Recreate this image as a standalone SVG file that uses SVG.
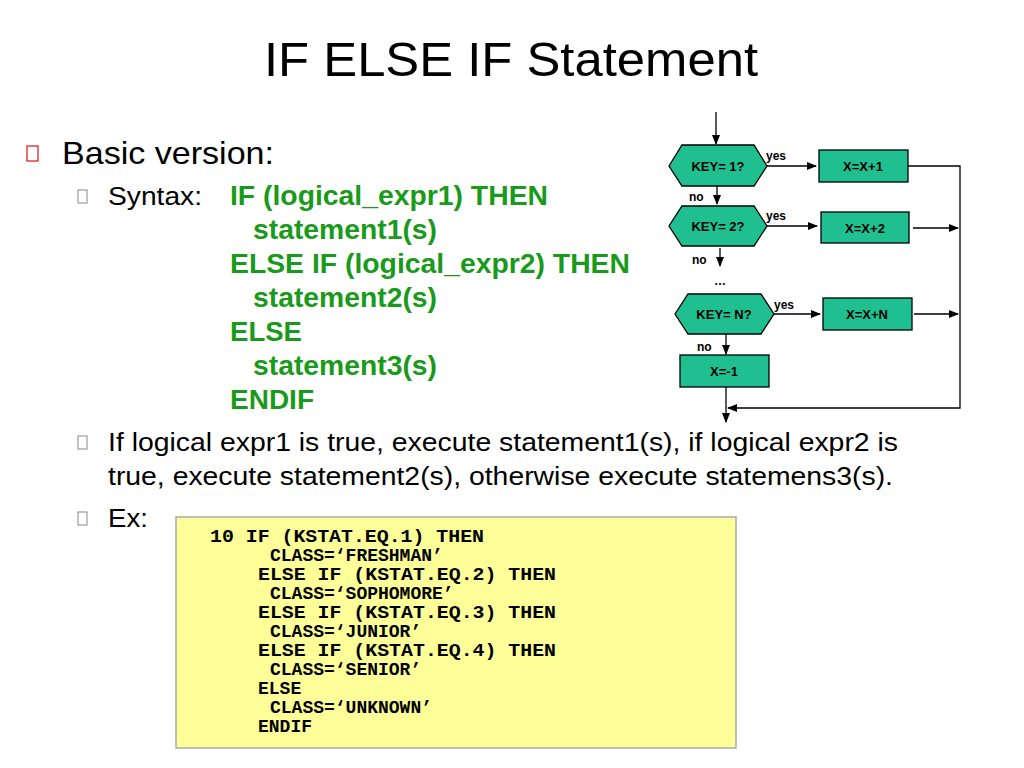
<svg xmlns="http://www.w3.org/2000/svg" width="1024" height="768" viewBox="0 0 1024 768">
<style>
.t{font-family:"Liberation Sans",Arial,sans-serif;fill:#000}
.g{font-family:"Liberation Sans",Arial,sans-serif;font-weight:bold;fill:#1a9a1a;font-size:27px}
.c{font-family:"Liberation Mono","Courier New",monospace;font-weight:bold;font-size:18px;fill:#000}
.n{fill:#1fbf8f;stroke:#000;stroke-width:1.3}
.nl{font-family:"Liberation Sans",Arial,sans-serif;font-weight:bold;font-size:13px;text-anchor:middle;fill:#000}
.sl{font-family:"Liberation Sans",Arial,sans-serif;font-weight:bold;font-size:12px;fill:#000}
.e{stroke:#000;stroke-width:1.3;fill:none}
</style>
<defs><marker id="a" markerWidth="10" markerHeight="8" refX="9" refY="4" orient="auto" markerUnits="userSpaceOnUse"><path d="M0,0L10,4L0,8z" fill="#000"/></marker></defs>
<rect width="1024" height="768" fill="#fff"/>
<text class="t" x="264" y="76" font-size="49" textLength="494" lengthAdjust="spacingAndGlyphs">IF ELSE IF Statement</text>
<rect x="27" y="146" width="11" height="15" fill="none" stroke="#e02020" stroke-width="1.3"/>
<text class="t" x="62" y="164" font-size="32" textLength="212" lengthAdjust="spacingAndGlyphs">Basic version:</text>
<g fill="none" stroke="#888" stroke-width="1"><rect x="78" y="190" width="9" height="13"/><rect x="78" y="436" width="9" height="13"/><rect x="78" y="512" width="9" height="13"/></g>
<text class="t" x="108" y="205" font-size="26" textLength="94" lengthAdjust="spacingAndGlyphs">Syntax:</text>
<text class="g" x="230" y="205" textLength="318" lengthAdjust="spacingAndGlyphs">IF (logical_expr1) THEN</text>
<text class="g" x="253" y="239" textLength="184" lengthAdjust="spacingAndGlyphs">statement1(s)</text>
<text class="g" x="230" y="273" textLength="400" lengthAdjust="spacingAndGlyphs">ELSE IF (logical_expr2) THEN</text>
<text class="g" x="253" y="307" textLength="184" lengthAdjust="spacingAndGlyphs">statement2(s)</text>
<text class="g" x="230" y="341" textLength="72" lengthAdjust="spacingAndGlyphs">ELSE</text>
<text class="g" x="253" y="375" textLength="184" lengthAdjust="spacingAndGlyphs">statement3(s)</text>
<text class="g" x="230" y="409" textLength="84" lengthAdjust="spacingAndGlyphs">ENDIF</text>
<text class="t" x="108" y="451" font-size="26" textLength="790" lengthAdjust="spacingAndGlyphs">If logical expr1 is true, execute statement1(s), if logical expr2 is</text>
<text class="t" x="108" y="485" font-size="26" textLength="785" lengthAdjust="spacingAndGlyphs">true, execute statement2(s), otherwise execute statemens3(s).</text>
<text class="t" x="108" y="527" font-size="26" textLength="40" lengthAdjust="spacingAndGlyphs">Ex:</text>
<g id="code">
<rect x="176" y="517" width="560" height="231" fill="#ffff99" stroke="#aaa" stroke-width="1.5"/>
<text class="c" xml:space="preserve"><tspan x="210" y="542" textLength="274" lengthAdjust="spacingAndGlyphs">10 IF (KSTAT.EQ.1) THEN</tspan><tspan x="270" y="561">CLASS=‘FRESHMAN’</tspan><tspan x="258" y="580" textLength="298" lengthAdjust="spacingAndGlyphs">ELSE IF (KSTAT.EQ.2) THEN</tspan><tspan x="270" y="599">CLASS=‘SOPHOMORE’</tspan><tspan x="258" y="618" textLength="298" lengthAdjust="spacingAndGlyphs">ELSE IF (KSTAT.EQ.3) THEN</tspan><tspan x="270" y="637">CLASS=‘JUNIOR’</tspan><tspan x="258" y="656" textLength="298" lengthAdjust="spacingAndGlyphs">ELSE IF (KSTAT.EQ.4) THEN</tspan><tspan x="270" y="675">CLASS=‘SENIOR’</tspan><tspan x="258" y="694">ELSE</tspan><tspan x="270" y="713">CLASS=‘UNKNOWN’</tspan><tspan x="258" y="732">ENDIF</tspan></text>
</g>
<g id="connectors">
<line class="e" x1="716" y1="112" x2="716" y2="144" marker-end="url(#a)"/>
<line class="e" x1="767" y1="166" x2="816" y2="166" marker-end="url(#a)"/>
<line class="e" x1="717" y1="186" x2="717" y2="204" marker-end="url(#a)"/>
<line class="e" x1="767" y1="226" x2="817" y2="226" marker-end="url(#a)"/>
<line class="e" x1="720" y1="248" x2="720" y2="266" marker-end="url(#a)"/>
<line class="e" x1="774" y1="314" x2="820" y2="314" marker-end="url(#a)"/>
<line class="e" x1="726" y1="334" x2="726" y2="354" marker-end="url(#a)"/>
<polyline class="e" points="908,166 960,166 960,408 728,408" marker-end="url(#a)"/>
<line class="e" x1="913" y1="228" x2="958" y2="228" marker-end="url(#a)"/>
<line class="e" x1="914" y1="314" x2="958" y2="314" marker-end="url(#a)"/>
<line class="e" x1="726" y1="387" x2="726" y2="422" marker-end="url(#a)"/>
<text class="sl" x="766" y="160">yes</text>
<text class="sl" x="689" y="201">no</text>
<text class="sl" x="766" y="220">yes</text>
<text class="sl" x="692" y="264">no</text>
<text class="sl" x="714" y="285">…</text>
<text class="sl" x="774" y="309">yes</text>
<text class="sl" x="697" y="351">no</text>
</g>
<g id="k1"><polygon class="n" points="669,166 682,145 754,145 767,166 754,186 682,186"/><text class="nl" x="718" y="171">KEY= 1?</text></g>
<g id="b1"><rect class="n" x="819" y="150" width="89" height="32"/><text class="nl" x="863" y="171">X=X+1</text></g>
<g id="k2"><polygon class="n" points="669,226 682,206 754,206 767,226 754,246 682,246"/><text class="nl" x="718" y="231">KEY= 2?</text></g>
<g id="b2"><rect class="n" x="821" y="212" width="88" height="31"/><text class="nl" x="865" y="233">X=X+2</text></g>
<g id="kn"><polygon class="n" points="675,314 688,294 761,294 774,314 761,334 688,334"/><text class="nl" x="724" y="319">KEY= N?</text></g>
<g id="bn"><rect class="n" x="823" y="298" width="89" height="32"/><text class="nl" x="867" y="319">X=X+N</text></g>
<g id="bm"><rect class="n" x="680" y="355" width="89" height="32"/><text class="nl" x="724" y="376">X=-1</text></g>
</svg>
